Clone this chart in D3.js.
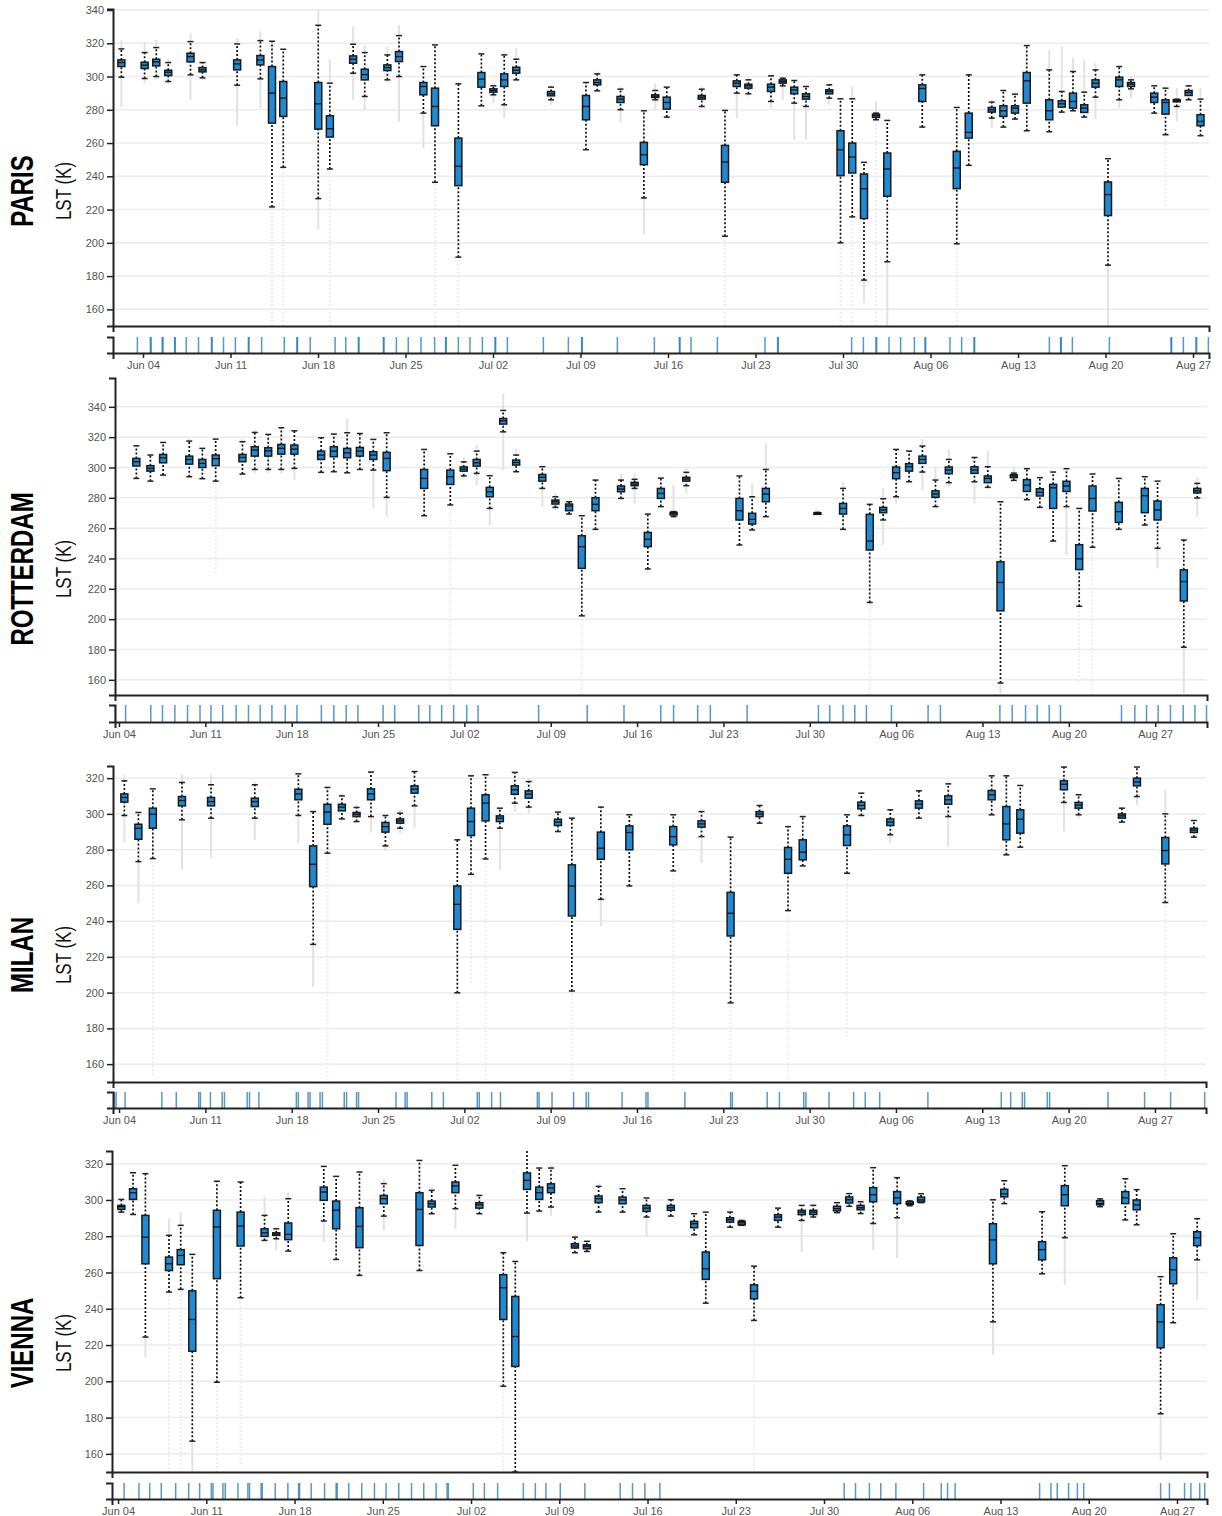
<!DOCTYPE html>
<html>
<head>
<meta charset="utf-8">
<script src="https://cdn.jsdelivr.net/npm/d3@7"></script>
<style>
body { margin: 0; background: #fff; }
svg text { font-family: "Liberation Sans", Arial, sans-serif; }
</style>
</head>
<body>
<svg id="chart" width="1222" height="1516"></svg>
<script>
// days are counted from May 31 (1 = Jun 01, 31 = Jul 01, 62 = Aug 01)
// each box: [day, min, lowWhisker, q1, median, q3, highWhisker, max]
const parisBoxes = [
  [2.27, 281.6, 299.6, 306, 308.4, 310, 316.6, 322], [4.13, 296, 298.8, 304.8, 306.8, 308.6, 314.4, 321],
  [5.06, 298, 300, 306.4, 308.8, 310.4, 317.4, 322], [6.02, 296, 297, 300.6, 302.6, 303.8, 308.4, 310.4],
  [7.8, 286, 301, 308.8, 312, 314, 321, 326], [8.76, 298, 299.2, 302.8, 304, 305.4, 308.4, 308.4],
  [11.53, 270.4, 294.8, 304, 307.6, 310, 319.6, 323], [13.39, 281, 298.6, 307, 310, 312.6, 321.6, 327],
  [14.32, 150, 221.6, 272, 290, 306, 321.2, 321.2], [15.22, 150, 245.4, 276, 287, 297, 316.4, 316.4],
  [18.02, 208, 226.6, 268.4, 283.6, 296.4, 330.8, 342], [18.95, 150, 244.4, 263.6, 268.6, 276.4, 296, 310.4],
  [20.81, 286, 302, 308, 310.4, 312.4, 319.4, 330], [21.74, 280, 288, 298, 301.2, 304.4, 314.4, 319],
  [23.55, 296, 298, 303.6, 305.4, 307, 313, 318], [24.48, 273, 300, 309, 312, 315, 324.6, 331],
  [26.43, 257, 278, 289, 294, 296.4, 306, 306], [27.36, 150, 236.4, 270.4, 282, 293, 319, 319],
  [29.23, 150, 191.4, 234.4, 246, 263, 295.6, 295.6], [31.07, 282.4, 282.4, 293.6, 298.4, 302.4, 313.6, 313.6],
  [32.03, 284, 289, 290.6, 291.6, 292.6, 294.4, 296], [32.9, 275, 283, 294, 298, 301.6, 313, 315],
  [33.86, 297, 298, 302, 303.8, 305.6, 310.4, 317], [36.64, 283, 286, 288.4, 289.6, 291, 293.6, 295],
  [39.44, 256, 256, 274, 282, 288.6, 296.4, 296.4], [40.34, 291, 291.4, 295, 296.4, 298, 301.6, 303],
  [42.2, 272.4, 280, 284.4, 286.4, 288, 292.4, 294], [44.07, 205, 227, 247, 253, 260.4, 279.4, 279.4],
  [44.98, 280, 286, 287.4, 288.2, 289, 291.6, 296], [45.9, 275.6, 275.6, 280.4, 284.4, 287.6, 293.6, 293.6],
  [48.7, 281, 282, 286.4, 287.6, 288.6, 292.4, 294], [50.56, 150, 204, 236.4, 248.6, 258.6, 279.6, 279.6],
  [51.5, 275, 290, 294, 296, 297.4, 301, 301], [52.43, 288, 289.6, 293, 294.4, 295.4, 298, 299],
  [54.24, 281, 285, 291, 293.6, 295.4, 300.4, 300.4], [55.18, 286, 294.4, 296, 297, 298, 299, 300.4],
  [56.1, 262, 284, 289.6, 292, 293.6, 297.6, 297.6], [57.04, 262, 282, 286.4, 288, 289.6, 294, 294],
  [58.9, 283, 287, 289.6, 291, 292, 295, 296], [59.8, 150, 200, 240.4, 256, 267.4, 286.6, 286.6],
  [60.74, 150, 215.6, 242, 251.6, 260, 286.6, 294], [61.68, 164, 177.6, 214.6, 232.6, 241.4, 248.4, 248.4],
  [62.64, 150, 274, 275.4, 276.4, 277.4, 278, 285], [63.54, 150, 188.6, 228, 244.4, 254, 273.6, 273.6],
  [66.34, 269.6, 269.6, 285, 292.8, 295, 301, 301], [69.1, 150, 199.4, 232.6, 245, 255, 281.4, 281.4],
  [70.06, 246.6, 246.6, 263, 266.4, 278, 301, 301], [71.9, 269, 275, 278.6, 280, 281.4, 284.6, 286],
  [72.83, 269.6, 269.6, 276, 279.4, 282.4, 291.6, 291.6], [73.76, 274.4, 274.4, 278, 281, 282.4, 289.4, 290.4],
  [74.7, 267.4, 267.4, 284, 297.4, 302.4, 318.6, 318.6], [76.5, 266.8, 266.8, 274, 279.4, 286, 304, 316],
  [77.5, 278.6, 278.6, 281.6, 283.6, 285.4, 291, 318], [78.4, 279.4, 279.4, 281, 285, 290, 303, 311],
  [79.3, 275.6, 275.6, 278.4, 281, 283, 290.6, 310], [80.2, 274.4, 287.6, 293.6, 296, 298, 304, 308],
  [81.2, 150, 186.6, 216.4, 229, 236.6, 250.6, 250.6], [82.1, 281, 286, 294, 298, 299.6, 306, 306],
  [83.04, 287, 292.6, 294, 295.4, 296.4, 298, 300], [84.9, 278, 278, 284.4, 287.6, 290, 294.4, 294.4],
  [85.8, 222, 265, 277.4, 284.4, 286, 293, 293], [86.7, 273, 282, 284.8, 285.4, 286, 286.4, 293],
  [87.65, 286, 286, 288.6, 290.4, 291.6, 294.4, 294.4], [88.6, 264.4, 264.4, 270.4, 273, 277, 286.4, 293]
];

const rotterdamBoxes = [
  [5.41, 292.8, 292.8, 301, 303.8, 306, 314.3, 314.3], [6.55, 291, 291, 297.6, 299.4, 301.2, 308.2, 308.2],
  [7.58, 295, 295, 303.1, 306.4, 308.6, 316.5, 316.5], [9.7, 293.9, 293.9, 302.2, 305.3, 307.5, 317.4, 319],
  [10.76, 292.6, 292.6, 300, 302.7, 305.3, 312.6, 312.6], [11.84, 230.3, 291, 301.2, 305.8, 308.2, 318.7, 318.7],
  [14.01, 295, 295.7, 303.8, 306.6, 308.6, 317, 319], [15.01, 296, 298.7, 307.5, 311.5, 313.7, 323.1, 325],
  [16.1, 296, 298.7, 307.5, 311, 313, 321.8, 321.8], [17.16, 296, 298.7, 308.8, 312.6, 315.2, 326.2, 326.2],
  [18.22, 291.7, 299.4, 308.8, 312.1, 314.8, 324.2, 324.2], [20.39, 296.8, 296.8, 305.3, 308.2, 310.8, 319.6, 319.6],
  [21.42, 297.2, 297.2, 307.1, 310.8, 313.7, 322, 322], [22.5, 296.5, 296.5, 306.4, 309.7, 312.6, 322.9, 332.3],
  [23.53, 298.7, 298.7, 307.5, 310.8, 313.2, 322.4, 322.4], [24.62, 273, 298.3, 305.3, 308.2, 310.4, 318.5, 319],
  [25.7, 267.6, 280.3, 297.9, 306, 310, 322.9, 322.9], [28.74, 268.2, 268.2, 286.2, 292.8, 298.7, 311.9, 311.9],
  [30.86, 151, 275.3, 288.8, 293.9, 298.3, 309, 309], [31.95, 294.4, 294.4, 297.6, 299, 300.4, 303.7, 306.6],
  [33.0, 288.4, 296.1, 300.9, 303.1, 305.3, 310.8, 314.8], [34.06, 262, 273, 280.7, 284, 286.9, 294.6, 294.6],
  [35.15, 298.3, 323.5, 328.6, 330.8, 332.3, 337.6, 348.8], [36.2, 297.2, 297.2, 301.6, 303.3, 304.9, 308.2, 312.6],
  [38.32, 274.2, 286.2, 291, 293.5, 295.4, 300.5, 300.5], [39.38, 272, 273.7, 275.9, 277.4, 278.5, 280.7, 283],
  [40.49, 269.3, 269.3, 271.5, 274.6, 275.9, 277.4, 277.4], [41.52, 151, 202.2, 233.5, 247.8, 255, 268.2, 268.2],
  [42.63, 259.2, 259.2, 271.5, 275.7, 280.1, 291.7, 291.7], [44.7, 279.6, 279.6, 284, 285.8, 287.8, 291.7, 295.7],
  [45.8, 276.3, 286.2, 288, 289.1, 290.2, 292.2, 296.1], [46.87, 230.3, 233.1, 247.8, 252.6, 257.2, 269.3, 269.3],
  [47.93, 274.2, 274.2, 279.6, 282.9, 286.2, 293, 293], [48.96, 267.6, 267.6, 268.7, 269.8, 270.4, 270.9, 288.4],
  [49.99, 282.9, 288, 291, 292.4, 293.5, 296.8, 299.4], [54.3, 248.9, 248.9, 265.4, 271.5, 279.6, 294.4, 294.4],
  [55.33, 258.8, 258.8, 262.7, 265.8, 269.8, 280.7, 289.5], [56.44, 267.6, 267.6, 277.4, 282.5, 286.2, 298.7, 315.9],
  [60.62, 269.3, 269.3, 269.6, 269.8, 270.1, 270.4, 272.5], [62.7, 259.2, 259.2, 269.3, 273, 276.3, 286.2, 290.6],
  [64.86, 151, 211, 245.6, 251.5, 269.1, 275.7, 275.7], [65.95, 249, 265.4, 270.2, 272, 273.7, 279.4, 286.6],
  [67.0, 276.3, 280.7, 292.6, 296.6, 300.3, 311.9, 311.9], [68.05, 290.6, 290.6, 297.6, 300.5, 302.5, 310.8, 310.8],
  [69.13, 285, 297, 302.7, 305.3, 307.5, 314.1, 318.5], [70.19, 274.2, 274.2, 280.3, 282.5, 284.6, 291.7, 300.5],
  [71.27, 287, 290, 295.9, 298.3, 300.3, 305.3, 311.9], [73.35, 276.3, 290.6, 296.1, 298.3, 300.5, 306.6, 306.6],
  [74.43, 286.9, 286.9, 290, 292.8, 294.4, 300.5, 310.8], [75.46, 151, 157.9, 205.5, 224.2, 237.8, 277.4, 277.4],
  [76.54, 291.5, 291.5, 293.3, 294.4, 295.2, 296.3, 300.5], [77.6, 278.8, 278.8, 284.2, 288.3, 292, 299.2, 299.2],
  [78.65, 273.7, 273.7, 281.2, 283.6, 286, 293.3, 293.3], [79.73, 251.5, 251.5, 273, 286.6, 288.9, 297, 297],
  [80.81, 242.3, 274.2, 284.2, 287.8, 290.9, 299.2, 299.2], [81.84, 159, 208.5, 232.7, 239.7, 249.1, 273, 273],
  [82.92, 151, 247.4, 271.3, 279.6, 287.8, 295.7, 295.7], [85.05, 259.2, 259.2, 263.8, 270.9, 277, 292.8, 292.8],
  [87.16, 262.1, 262.1, 270.2, 281.4, 286.2, 293.9, 293.9], [88.19, 233.5, 246.7, 265.4, 272, 277.9, 291, 291],
  [90.32, 151, 181.5, 212, 224.8, 232.5, 252.2, 252.2], [91.41, 267.6, 279.9, 283.2, 284.6, 286.2, 289.5, 293.9]
];

const milanBoxes = [
  [4.43, 284, 299.1, 306.6, 309.2, 311.2, 318.5, 321.9], [5.57, 250, 273.3, 285.8, 292, 294.2, 300.8, 300.8],
  [6.74, 153.8, 275, 292, 299.8, 303.2, 314, 314], [9.1, 268.7, 296.7, 304.5, 307.5, 309.7, 317.6, 322.4],
  [11.46, 275.2, 297.6, 304.5, 306.9, 309.2, 316.3, 321.9], [15.01, 285.5, 297.6, 304.1, 306.9, 308.8, 316.3, 318.1],
  [18.54, 283.6, 299.1, 307.9, 311.2, 313.8, 322.4, 322.4], [19.74, 203.3, 227, 259.3, 271.8, 282.1, 301.3, 301.3],
  [20.9, 152.9, 278, 294.2, 301, 305.4, 314.8, 314.8], [22.07, 297.2, 297.2, 301.7, 303.8, 305.4, 310.1, 311.6],
  [23.26, 295.7, 295.7, 298.5, 299.8, 300.8, 303.6, 305.1], [24.43, 289.6, 298.5, 307.9, 311.2, 314, 323.4, 323.4],
  [25.6, 279.5, 282.1, 289.8, 292.9, 295.2, 299.1, 299.1], [26.79, 289.2, 292, 294.8, 296.1, 297.2, 300.4, 302.3],
  [27.96, 292, 304.5, 311.6, 313.8, 315.7, 323.7, 323.7], [31.43, 149, 199.9, 235.4, 249.4, 259.7, 285.5, 285.5],
  [32.54, 205.2, 266.2, 287.9, 295.7, 303.2, 321.3, 321.3], [33.72, 149, 274.8, 296.1, 306, 310.7, 321.9, 321.9],
  [34.88, 268.7, 292, 295.7, 297.6, 298.9, 303.2, 303.2], [36.09, 301.3, 306, 311, 313.5, 315.7, 323.2, 323.2],
  [37.22, 300.4, 303.8, 308.8, 311, 312.9, 318.1, 320], [39.59, 290.1, 290.1, 293.5, 295.4, 297, 301, 301],
  [40.72, 149, 200.9, 242.9, 259.7, 271.5, 297.6, 297.6], [43.07, 237.3, 252.2, 274.6, 280.8, 289.8, 303.8, 303.8],
  [45.38, 259.7, 259.7, 279.9, 289.6, 293.3, 299.5, 299.5], [48.94, 151, 268.1, 282.7, 287.3, 292.9, 299.5, 299.5],
  [51.23, 272.4, 287.3, 292.6, 294.4, 296.1, 301.3, 301.3], [53.59, 149, 194.3, 231.7, 244.4, 256.1, 287, 287],
  [55.94, 294.8, 294.8, 298.5, 300, 301.3, 304.7, 305.5], [58.25, 149, 245.9, 266.8, 274.6, 281.2, 292.9, 292.9],
  [59.44, 270.9, 270.9, 274.3, 278.6, 285.5, 298.5, 298.5], [63.03, 175.3, 266.8, 282.3, 288.3, 293.3, 299.5, 299.5],
  [64.19, 299.1, 299.1, 302.8, 304.7, 306.6, 311.6, 311.6], [66.54, 283.6, 288.3, 293.5, 295.4, 297.2, 302.3, 302.3],
  [68.86, 297.6, 297.6, 303.2, 305.4, 307.3, 312.9, 312.9], [71.24, 281.7, 298.5, 305.4, 307.9, 310.1, 316.8, 318.1],
  [74.76, 299.5, 299.5, 307.9, 310.7, 313.1, 321.3, 321.3], [75.95, 277.1, 277.1, 285.5, 294.4, 304.1, 321.3, 321.3],
  [77.08, 281.4, 281.4, 289.2, 297, 302.3, 315.9, 315.9], [80.62, 290.1, 306.4, 313.5, 316.6, 318.5, 326.2, 326.5],
  [81.81, 297.6, 299.5, 303.2, 304.9, 306.4, 310.7, 310.7], [85.32, 295.4, 295.4, 297.6, 298.9, 300, 303.2, 303.2],
  [86.54, 305.1, 309.7, 315.7, 317.9, 320, 326.2, 326.2], [88.84, 151, 250.4, 272, 279.5, 286.8, 300, 313.5],
  [91.16, 287, 287, 289.6, 290.9, 292, 296.3, 296.3]
];

const viennaBoxes = [
  [4.26, 293.3, 293.3, 294.8, 296.3, 297, 300.3, 300.3], [5.19, 292, 292, 300.3, 304, 306.2, 315, 315],
  [6.17, 213.3, 224.4, 264.8, 279.5, 291.5, 314.5, 314.5], [8.04, 151.7, 249.2, 261.1, 264.8, 268.5, 280.5, 289.7],
  [8.97, 151.7, 250.7, 264.3, 269.4, 272.6, 286, 293.3], [9.89, 150, 167, 216.6, 234.1, 249.9, 270, 270],
  [11.84, 150, 199.5, 256.6, 285.1, 294.3, 310.3, 310.3], [13.72, 154.5, 246.1, 274.6, 285.6, 293.3, 309.9, 309.9],
  [15.62, 277.7, 277.7, 279.9, 281.9, 284.1, 291.5, 301.6], [16.55, 272.2, 278.6, 280.5, 281.2, 281.9, 284.1, 285],
  [17.5, 271.8, 271.8, 278.1, 281, 287.3, 300.7, 304.4], [20.32, 276.8, 288.4, 299.8, 304.4, 307.1, 318.5, 318.5],
  [21.3, 267.2, 267.2, 284.1, 294.3, 299.4, 313, 313], [23.15, 258.4, 258.4, 273.7, 285.4, 295.7, 315.4, 315.4],
  [25.08, 283.2, 291.1, 297.9, 300.7, 302.5, 309, 311.7], [27.91, 261.1, 261.1, 274.9, 294.8, 304, 321.8, 321.8],
  [28.88, 292.4, 292.4, 296.1, 297.9, 299.4, 305.3, 307.1], [30.76, 284.1, 295.2, 304, 307.7, 309.9, 319.1, 319.1],
  [32.66, 292.4, 292.4, 295.5, 297.4, 298.5, 302.5, 302.9], [34.56, 150.8, 197.3, 234.1, 251.6, 258.8, 270.9, 270.9],
  [35.51, 150, 150, 208.2, 224.7, 246.8, 266.1, 266.1], [36.44, 277.2, 292.8, 305.8, 310.8, 314.9, 327.4, 327.4],
  [37.41, 293.9, 293.9, 300.3, 304, 307.1, 317.6, 317.6], [38.34, 291.5, 296.1, 304, 306.6, 308.9, 317.6, 319.1],
  [40.24, 270.9, 270.9, 273.5, 274.6, 275.9, 279.5, 280.8], [41.19, 271.6, 271.6, 273.1, 274.4, 275.3, 277.2, 277.2],
  [42.12, 293.3, 293.3, 298.5, 300.7, 302.2, 307.5, 309], [44.02, 293.3, 293.3, 297.9, 300, 301.6, 306.2, 306.2],
  [45.92, 279.5, 290.6, 293.7, 295.5, 297, 301.1, 301.1], [47.85, 291.1, 291.1, 294.3, 295.7, 297, 300.1, 300.1],
  [49.7, 280.8, 280.8, 284.7, 286.9, 288.2, 292.4, 292.4], [50.62, 243.1, 243.1, 256.2, 262.1, 271.3, 293.3, 293.3],
  [52.55, 285, 285, 287.8, 289.1, 290.2, 293.3, 294.8], [53.47, 286, 286, 286.3, 287.4, 288.2, 288.7, 288.7],
  [54.45, 150.8, 233.6, 245.5, 249.6, 253.2, 263.5, 263.5], [56.35, 285, 285, 288.7, 290.6, 291.9, 295.5, 295.5],
  [58.23, 271.3, 288.7, 291.9, 293.3, 294.3, 297, 297], [59.15, 290.6, 290.6, 292, 293.3, 294.3, 297, 297.9],
  [61.03, 293, 293, 294, 295.2, 296.5, 298.5, 298.5], [62.0, 296.5, 296.5, 298.3, 300.1, 301.7, 303.5, 303.5],
  [62.9, 292.5, 292.5, 294.6, 295.7, 297, 299, 299], [63.9, 272.6, 287, 299, 302.9, 306.8, 317.8, 317.8],
  [65.8, 268, 290.2, 298, 301.2, 304.6, 312.3, 312.3], [66.8, 296.8, 296.8, 297.6, 298, 299, 299.5, 299.5],
  [67.7, 298.5, 298.5, 298.9, 300, 301.6, 303.4, 303.4], [73.4, 214.6, 232.8, 264.8, 278, 286.9, 300.1, 300.1],
  [74.3, 298, 298, 301.7, 303.4, 305.9, 310.6, 310.6], [77.3, 259.3, 259.3, 267, 272.6, 277, 293.5, 293.5],
  [79.1, 253.2, 279.2, 296.8, 302.9, 307.9, 318.9, 318.9], [81.9, 296.3, 296.3, 297.3, 298, 299.6, 300.6, 300.6],
  [83.9, 289, 289, 298, 301.2, 304.6, 311.7, 311.7], [84.8, 286.3, 286.3, 294.6, 297.3, 300, 305.7, 305.7],
  [86.7, 156.7, 182.1, 218.5, 232.8, 242.2, 257.7, 257.7], [87.7, 232.3, 232.3, 253.8, 261.5, 268.1, 281.4, 281.4],
  [89.6, 245, 267, 274.8, 279.2, 282.5, 289.7, 289.7]
];

// acquisition days shown in the rug strip
const parisRug = [3.55, 4.59, 4.65, 5.54, 5.6, 6.53, 6.58, 7.46, 8.44, 9.48, 9.53, 10.44, 11.39, 12.43, 12.48,
  13.49, 15.3, 16.31, 16.36, 17.38, 19.37, 20.22, 21.23, 21.28, 23.23, 23.28, 24.27, 25.22, 26.24, 27.33,
  28.21, 28.26, 29.23, 30.16, 31.15, 32.16, 32.21, 33.15, 36.03, 38.03, 39.09, 39.14, 41.95, 44.91, 46.91,
  46.96, 47.84, 49.95, 53.76, 54.77, 54.82, 60.69, 61.63, 62.64, 62.69, 63.68, 64.61, 65.71, 66.56, 66.61,
  68.56, 69.49, 70.48, 70.53, 76.51, 77.41, 77.46, 78.35, 81.31, 86.24, 86.29, 87.23, 88.24, 88.29, 89.23];
const rotterdamRug = [3.7, 4.54, 6.58, 7.53, 8.53, 9.56, 10.57, 11.46, 12.41, 13.5, 14.5, 15.45, 16.4, 17.48,
  18.43, 20.41, 21.42, 22.42, 23.37, 25.41, 26.35, 28.3, 29.2, 30.16, 31.13, 32.19, 33.11, 38.02, 41.96,
  44.94, 47.92, 48.96, 50.91, 51.94, 54.92, 60.7, 61.62, 62.7, 63.65, 64.59, 66.62, 69.59, 70.59, 75.41,
  76.41, 77.49, 78.43, 79.41, 80.32, 85.27, 86.35, 87.3, 88.24, 89.24, 90.27, 91.22, 92.16];
const milanRug = [3.62, 3.76, 4.49, 7.47, 8.64, 10.46, 10.6, 11.41, 12.36, 12.55, 14.39, 14.58, 15.34, 18.38,
  18.54, 19.33, 19.49, 20.3, 20.49, 22.26, 22.45, 23.26, 23.42, 26.46, 27.2, 27.36, 29.36, 30.3, 33.05,
  33.21, 34.21, 34.93, 37.92, 38.06, 39.11, 40.86, 41.88, 42.07, 44.79, 46.73, 46.89, 49.88, 53.59, 53.73,
  56.56, 57.55, 59.52, 59.7, 61.57, 63.57, 64.51, 65.68, 69.59, 75.54, 76.3, 77.24, 77.43, 79.27, 79.46,
  84.19, 87.16, 89.27, 92.03];
const viennaRug = [4.48, 5.66, 6.51, 7.43, 8.57, 9.6, 10.47, 11.4, 11.53, 12.32, 12.5, 13.51, 14.3, 14.43,
  15.35, 15.44, 16.47, 17.47, 18.32, 18.4, 19.32, 20.38, 21.3, 21.38, 22.3, 23.33, 24.34, 25.26, 26.27,
  27.28, 28.25, 29.23, 30.1, 30.2, 32.18, 33.06, 34.11, 36.15, 37.1, 37.94, 39.08, 41.03, 43.83, 44.81,
  45.79, 46.98, 61.6, 62.5, 63.6, 64.5, 65.7, 67.9, 69.3, 69.8, 70.4, 77.1, 78, 78.5, 79.4, 80.1, 80.6,
  86.7, 87.4, 88.6, 89.1, 89.8, 90.2];

const dateTickLabels = ['Jun 04', 'Jun 11', 'Jun 18', 'Jun 25', 'Jul 02', 'Jul 09', 'Jul 16',
  'Jul 23', 'Jul 30', 'Aug 06', 'Aug 13', 'Aug 20', 'Aug 27'];
const yTicks340 = [160, 180, 200, 220, 240, 260, 280, 300, 320, 340];
const yTicks320 = [160, 180, 200, 220, 240, 260, 280, 300, 320];
const cityNames = ['PARIS', 'ROTTERDAM', 'MILAN', 'VIENNA'];
const yTitle = 'LST (K)';

const year = 2017;
const base = new Date(year, 4, 31);
const toDate = d => new Date(base.getTime() + d * 864e5);
const parseTick = d3.timeParse('%b %d %Y');
const tickDates = dateTickLabels.map(s => parseTick(s + ' ' + year));

const panels = [
  { name: cityNames[0], boxes: parisBoxes, rug: parisRug, yTicks: yTicks340, yDomain: [150, 340.6],
    xDomain: [1.6, 89.28], x0: 113, x1: 1209, top: 9, bottom: 326, rugTop: 337, rugBottom: 353, labelY: 191 },
  { name: cityNames[1], boxes: rotterdamBoxes, rug: rotterdamRug, yTicks: yTicks340, yDomain: [150, 359],
    xDomain: [3.68, 92.2], x0: 115, x1: 1207, top: 378, bottom: 695, rugTop: 705, rugBottom: 722, labelY: 569 },
  { name: cityNames[2], boxes: milanBoxes, rug: milanRug, yTicks: yTicks320, yDomain: [150, 326.8],
    xDomain: [3.51, 92.14], x0: 113, x1: 1206, top: 766, bottom: 1082, rugTop: 1092, rugBottom: 1108, labelY: 955 },
  { name: cityNames[3], boxes: viennaBoxes, rug: viennaRug, yTicks: yTicks320, yDomain: [150, 327],
    xDomain: [3.52, 90.38], x0: 112, x1: 1207, top: 1151, bottom: 1472, rugTop: 1483, rugBottom: 1499, labelY: 1343 }
];

const svg = d3.select('#chart');
const boxWidth = 7, capWidth = 6;

panels.forEach((p, i) => {
  const x = d3.scaleTime().domain(p.xDomain.map(toDate)).range([p.x0, p.x1]);
  const y = d3.scaleLinear().domain(p.yDomain).range([p.bottom, p.top]);
  const g = svg.append('g').attr('class', 'panel');

  const clipId = 'clip' + i;
  svg.append('clipPath').attr('id', clipId)
    .append('rect').attr('x', p.x0).attr('y', p.top)
    .attr('width', p.x1 - p.x0).attr('height', p.bottom - p.top);

  // grid
  g.append('g').selectAll('line').data(p.yTicks).enter().append('line')
    .attr('x1', p.x0).attr('x2', p.x1)
    .attr('y1', d => y(d)).attr('y2', d => y(d))
    .attr('stroke', '#ececec').attr('stroke-width', 1.5);

  const plot = g.append('g').attr('clip-path', 'url(#' + clipId + ')');
  const items = plot.selectAll('g.box').data(p.boxes).enter().append('g').attr('class', 'box');
  const cx = d => x(toDate(d[0]));

  // full range of pixel values beyond the whiskers (faint, dotted when long)
  const tail = (a, b) => items.append('line')
    .attr('x1', cx).attr('x2', cx)
    .attr('y1', d => y(d[a])).attr('y2', d => y(d[b]))
    .attr('stroke', d => Math.abs(d[a] - d[b]) > 40 ? '#ededed' : '#e2e2e2')
    .attr('stroke-width', 2)
    .attr('stroke-dasharray', d => Math.abs(d[a] - d[b]) > 40 ? '2,2' : null);
  tail(1, 2);
  tail(6, 7);

  // whiskers
  items.append('line')
    .attr('x1', cx).attr('x2', cx)
    .attr('y1', d => y(d[2])).attr('y2', d => y(d[3]))
    .attr('stroke', '#111').attr('stroke-width', 1.7).attr('stroke-dasharray', '2,2');
  items.append('line')
    .attr('x1', cx).attr('x2', cx)
    .attr('y1', d => y(d[5])).attr('y2', d => y(d[6]))
    .attr('stroke', '#111').attr('stroke-width', 1.7).attr('stroke-dasharray', '2,2');
  [2, 6].forEach(k => {
    items.append('line')
      .attr('x1', d => cx(d) - capWidth / 2).attr('x2', d => cx(d) + capWidth / 2)
      .attr('y1', d => y(d[k])).attr('y2', d => y(d[k]))
      .attr('stroke', '#222').attr('stroke-width', 1.5);
  });

  // box + median
  items.append('rect')
    .attr('x', d => cx(d) - boxWidth / 2).attr('width', boxWidth)
    .attr('y', d => y(d[5])).attr('height', d => Math.max(1.5, y(d[3]) - y(d[5])))
    .attr('fill', '#1f8ad2').attr('stroke', '#1a1a1a').attr('stroke-width', 1.5);
  items.append('line')
    .attr('x1', d => cx(d) - boxWidth / 2).attr('x2', d => cx(d) + boxWidth / 2)
    .attr('y1', d => y(d[4])).attr('y2', d => y(d[4]))
    .attr('stroke', '#111').attr('stroke-width', 1.3);

  // axes of the box plot
  const yAxis = g.append('g').attr('transform', 'translate(' + p.x0 + ',0)')
    .call(d3.axisLeft(y).tickValues(p.yTicks).tickSize(6).tickSizeOuter(6));
  const xAxis = g.append('g').attr('transform', 'translate(0,' + p.bottom + ')')
    .call(d3.axisBottom(x).tickValues([]).tickSizeOuter(6));

  // rug strip
  g.append('g').selectAll('line').data(p.rug).enter().append('line')
    .attr('x1', d => x(toDate(d))).attr('x2', d => x(toDate(d)))
    .attr('y1', p.rugTop).attr('y2', p.rugBottom)
    .attr('stroke', '#1f77b4').attr('stroke-opacity', 0.75).attr('stroke-width', 1.5);

  const rugY = d3.scaleLinear().range([p.rugBottom, p.rugTop]);
  const rugAxis = g.append('g').attr('transform', 'translate(' + p.x0 + ',0)')
    .call(d3.axisLeft(rugY).tickValues([]).tickSizeOuter(6));
  const dateAxis = g.append('g').attr('transform', 'translate(0,' + p.rugBottom + ')')
    .call(d3.axisBottom(x).tickValues(tickDates).tickFormat(d3.timeFormat('%b %d')).tickSize(5).tickSizeOuter(6));

  [yAxis, xAxis, rugAxis, dateAxis].forEach(a => {
    a.select('.domain').attr('stroke', '#222').attr('stroke-width', 2);
    a.selectAll('.tick line').attr('stroke', '#222').attr('stroke-width', 1.5);
    a.selectAll('.tick text').attr('fill', '#555').style('font-size', '11px');
  });

  // titles
  g.append('text')
    .attr('transform', 'translate(33,' + p.labelY + ') rotate(-90) scale(1,1.34)')
    .attr('text-anchor', 'middle')
    .style('font-size', '24px').style('font-weight', 'bold').attr('fill', '#000')
    .text(p.name);
  g.append('text')
    .attr('transform', 'translate(71,' + p.labelY + ') rotate(-90) scale(1,1.25)')
    .attr('text-anchor', 'middle')
    .style('font-size', '17px').attr('fill', '#111')
    .text(yTitle);
});
</script>
</body>
</html>
